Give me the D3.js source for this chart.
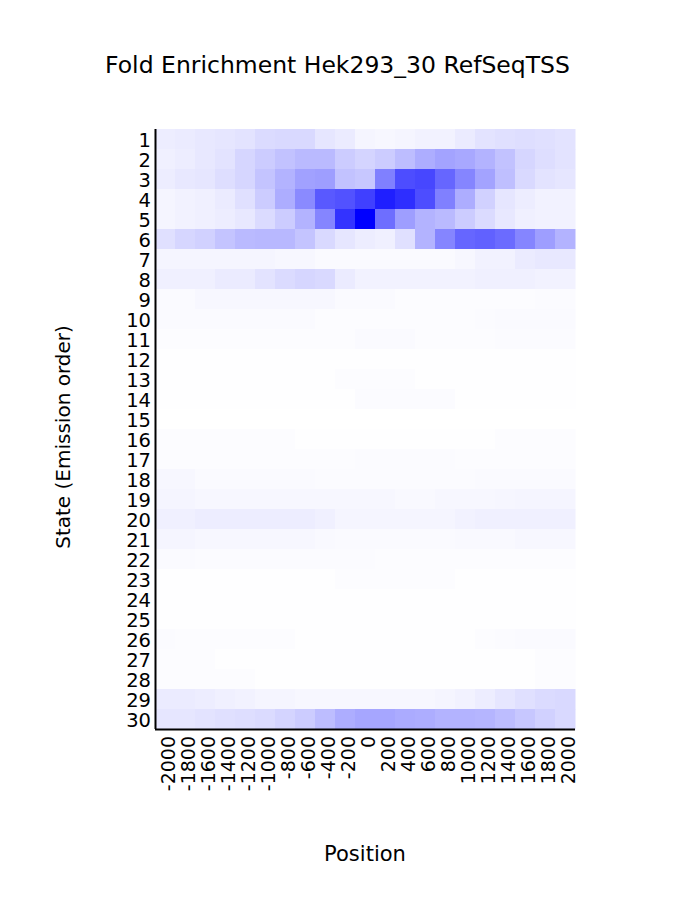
<!DOCTYPE html>
<html><head><meta charset="utf-8">
<script src="https://cdn.jsdelivr.net/npm/d3@7/dist/d3.min.js"></script>
<style>body{margin:0;background:#fff;}</style>
</head><body>
<svg id="c" width="675" height="917"></svg>
<script>
const positions = [-2000,-1800,-1600,-1400,-1200,-1000,-800,-600,-400,-200,0,200,400,600,800,1000,1200,1400,1600,1800,2000];
const states = d3.range(1,31).map(String);
// intensity per state (0 = white, 1 = full blue), 21 positions each
const s1  = [.07,.08,.09,.10,.11,.14,.15,.15,.10,.08,.04,.03,.04,.05,.05,.08,.11,.12,.13,.12,.11];
const s2  = [.06,.07,.09,.11,.16,.20,.24,.27,.27,.20,.17,.20,.26,.32,.36,.34,.30,.24,.16,.13,.11];
const s3  = [.07,.09,.10,.13,.16,.23,.30,.37,.38,.24,.22,.50,.70,.72,.60,.48,.36,.25,.15,.11,.10];
const s4  = [.04,.05,.06,.08,.12,.20,.32,.46,.65,.68,.75,.88,.82,.70,.50,.32,.18,.10,.07,.05,.05];
const s5  = [.04,.05,.06,.07,.09,.14,.20,.30,.48,.80,1.0,.57,.38,.30,.27,.20,.14,.09,.06,.05,.05];
const s6  = [.12,.16,.18,.23,.27,.28,.28,.23,.15,.10,.07,.06,.12,.30,.48,.60,.62,.58,.48,.38,.30];
const s7  = [.04,.04,.04,.04,.04,.04,.03,.03,.02,.02,.02,.02,.02,.02,.02,.03,.05,.05,.08,.09,.09];
const s8  = [.06,.06,.06,.08,.08,.11,.14,.16,.15,.08,.05,.05,.05,.05,.05,.05,.06,.06,.06,.05,.05];
const s9  = [.02,.02,.03,.03,.03,.03,.03,.03,.03,.02,.02,.02,.01,.01,.01,.01,.01,.01,.01,.015,.015];
const s10 = [.02,.02,.02,.02,.02,.02,.02,.02,.01,.01,.01,.01,.01,.01,.01,.01,.015,.02,.02,.02,.02];
const s11 = [.01,.01,.01,.01,.01,.01,.01,.01,.01,.01,.02,.02,.02,.01,.01,.01,.01,.015,.015,.015,.015];
const s12 = [.005,.005,.005,.005,.005,.005,.005,.005,.005,.005,.005,.005,.005,.005,.005,.005,.005,.005,.005,.005,.005];
const s13 = [.005,.005,.005,.005,.005,.005,.005,.005,.005,.01,.01,.01,.01,.005,.005,.005,.005,.005,.005,.005,.005];
const s14 = [.003,.003,.003,.003,.003,.003,.003,.003,.003,.003,.015,.015,.015,.015,.015,.003,.003,.003,.003,.003,.003];
const s15 = [0,0,0,0,0,0,0,0,0,0,0,0,0,0,0,0,0,0,0,0,0];
const s16 = [.01,.01,.01,.01,.01,.01,.01,.005,.005,.005,.005,.005,.005,.005,.005,.005,.005,.01,.01,.01,.01];
const s17 = [.01,.01,.01,.01,.01,.01,.01,.01,.01,.01,.015,.015,.015,.015,.015,.01,.01,.01,.01,.01,.01];
const s18 = [.03,.03,.02,.02,.02,.02,.02,.02,.015,.015,.015,.015,.015,.015,.015,.015,.02,.02,.02,.02,.02];
const s19 = [.04,.04,.03,.03,.03,.03,.03,.03,.03,.03,.03,.03,.025,.025,.03,.03,.03,.035,.04,.04,.04];
const s20 = [.06,.06,.07,.07,.07,.07,.07,.07,.06,.04,.04,.04,.04,.04,.04,.05,.06,.06,.06,.06,.06];
const s21 = [.04,.04,.03,.03,.03,.03,.03,.03,.025,.02,.02,.02,.02,.02,.02,.025,.025,.025,.03,.03,.03];
const s22 = [.02,.02,.015,.015,.015,.015,.015,.015,.015,.015,.015,.01,.01,.01,.01,.01,.01,.01,.01,.01,.01];
const s23 = [.005,.005,.005,.005,.005,.005,.005,.005,.005,.01,.01,.01,.01,.01,.01,.005,.005,.005,.005,.005,.005];
const s24 = [.005,.005,.005,.005,.005,.005,.005,.005,.003,.003,.003,.003,.003,.003,.003,.003,.003,.003,.003,.003,.003];
const s25 = [.003,.003,.003,.003,.003,.003,.003,.003,.003,.003,.003,.003,.003,.003,.003,.003,.003,.003,.003,.003,.003];
const s26 = [.015,.01,.01,.01,.01,.01,.01,.005,.005,.005,.005,.005,.005,.005,.005,.005,.01,.015,.02,.02,.02];
const s27 = [.01,.01,.01,.005,.005,.005,.005,.005,.005,.005,.005,.005,.005,.005,.005,.005,.005,.005,.005,.01,.01];
const s28 = [.01,.01,.01,.01,.01,.005,.005,.005,.005,.005,.005,.005,.005,.005,.005,.005,.005,.005,.005,.01,.01];
const s29 = [.08,.08,.07,.06,.05,.04,.04,.03,.03,.03,.03,.03,.03,.03,.04,.05,.07,.10,.12,.14,.15];
const s30 = [.10,.10,.11,.12,.13,.14,.17,.20,.26,.32,.35,.35,.33,.32,.30,.30,.29,.26,.22,.18,.15];
const values = [s1,s2,s3,s4,s5,s6,s7,s8,s9,s10,s11,s12,s13,s14,s15,s16,s17,s18,s19,s20,s21,s22,s23,s24,s25,s26,s27,s28,s29,s30];

const title = "Fold Enrichment Hek293_30 RefSeqTSS";
const xTitle = "Position";
const yTitle = "State (Emission order)";

const svg = d3.select("#c");
const font = "DejaVu Sans, sans-serif";
const m = {left:155, top:129, right:575, bottom:729};

const x = d3.scaleBand().domain(positions.map(String)).range([m.left, m.right]).padding(0);
const y = d3.scaleBand().domain(states).range([m.top, m.bottom]).padding(0);
const color = d3.scaleLinear().domain([0,1]).range(["#ffffff","#0000ff"]).interpolate(d3.interpolateRgb);

const cells = [];
values.forEach((row,i)=>row.forEach((v,j)=>cells.push({s:states[i], p:String(positions[j]), v})));
svg.append("g").selectAll("rect").data(cells).join("rect")
  .attr("x", d=>x(d.p)).attr("y", d=>y(d.s))
  .attr("width", x.bandwidth()+0.5).attr("height", y.bandwidth()+0.5)
  .attr("fill", d=>color(d.v));

// axes
const yAxis = svg.append("g").attr("transform",`translate(${m.left},0)`)
  .call(d3.axisLeft(y).tickSize(0).tickPadding(4));
yAxis.select(".domain").attr("stroke","#000").attr("stroke-width",2).attr("d",`M0.5,${m.top}V${m.bottom}`);
yAxis.selectAll("text").attr("font-family",font).attr("font-size",19.5).attr("fill","#000").attr("dy","0.4em");

const xAxis = svg.append("g").attr("transform",`translate(0,${m.bottom})`)
  .call(d3.axisBottom(x).tickSize(0).tickPadding(0));
xAxis.select(".domain").attr("stroke","#000").attr("stroke-width",2).attr("d",`M${m.left},0.5H${m.right}`);
xAxis.selectAll("text").attr("font-family",font).attr("font-size",19).attr("fill","#000")
  .attr("text-anchor","end").attr("dy","0.36em").attr("y",0)
  .attr("transform","translate(3,7) rotate(-90)");

svg.append("text").attr("x",337.5).attr("y",73).attr("text-anchor","middle")
  .attr("font-family",font).attr("font-size",23.5).text(title);
svg.append("text").attr("x",365).attr("y",861).attr("text-anchor","middle")
  .attr("font-family",font).attr("font-size",21).text(xTitle);
svg.append("text").attr("transform","translate(70,437) rotate(-90)").attr("text-anchor","middle")
  .attr("font-family",font).attr("font-size",20).text(yTitle);
</script>
</body></html>
